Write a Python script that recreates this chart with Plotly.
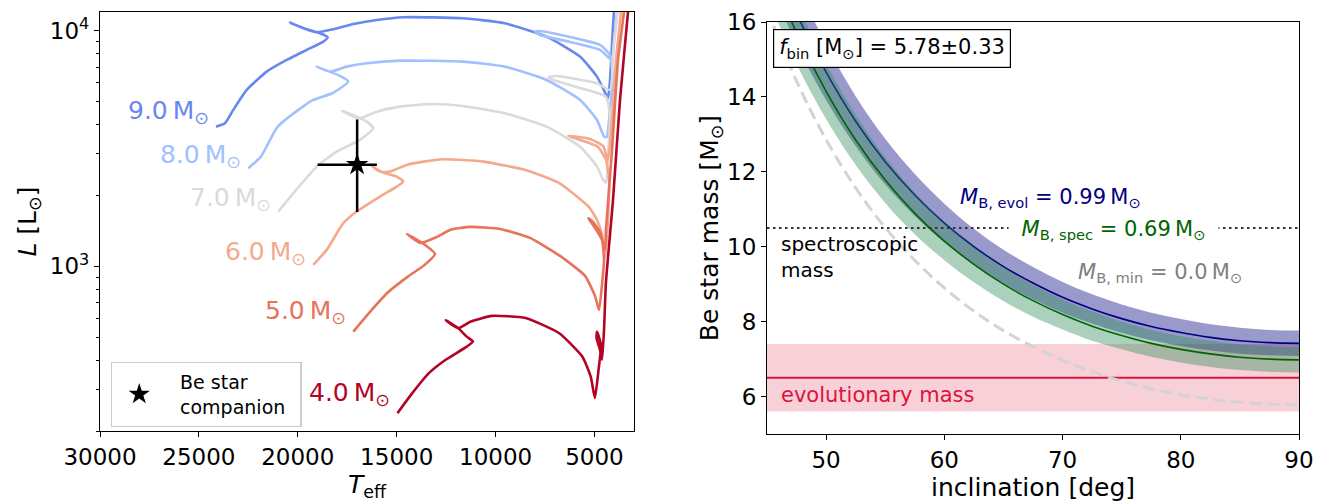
import math
import plotly.graph_objects as go

# ---------------- data: evolutionary tracks (Teff [K], L [Lsun]) ----------------
track_labels = ["9.0", "8.0", "7.0", "6.0", "5.0", "4.0"]
track_colors = ["#6788ee", "#a2c0fd", "#dadada", "#f5a98c", "#e6735a", "#b40426"]

teff_9 = [24135, 23680, 23260, 22583, 21572, 20560, 19549, 18710, 18488, 18877, 19549, 20394, 19721, 19044,
          18204, 17193, 16010, 14645, 11672, 9543, 7420, 5721, 4872, 4447, 4325, 4224, 4129, 4022, 3962]
lum_9 = [3915, 4046, 4610, 5604, 6699, 7511, 8284, 8981, 9376, 9749, 10137, 10812, 10237, 9845,
         10137, 10676, 11101, 11399, 11287, 10750, 9430, 7757, 6380, 5425, 5156, 5983, 8284, 11854, 13490]

teff_8 = [22502, 21865, 21016, 19741, 19216, 18255, 17446, 17866, 19044, 18371, 17527, 16516, 14832, 11672,
          9543, 7420, 5721, 4872, 4513, 4386, 4214, 4094, 4214, 4720, 6237, 7754, 8006, 7754, 6237, 4720,
          4113, 4012, 3860, 3810]
lum_8 = [2608, 2920, 3915, 4761, 5082, 5425, 6077, 6424, 7036, 6699, 7036, 7273, 7459, 7387,
         7036, 6178, 5082, 4179, 3551, 3530, 4610, 6486, 7886, 8697, 9404, 9970, 9922, 9589, 8954, 8284,
         7511, 9130, 11890, 13490]

teff_7 = [20985, 20227, 19044, 18033, 16854, 16182, 16516, 17021, 17780, 17360, 16854, 16010, 14832, 13148,
          11672, 9543, 7420, 5721, 4872, 4553, 4417, 4300, 4214, 4417, 5731, 7081, 7334, 6909, 4887, 4214,
          4048, 3845, 3785]
lum_7 = [1707, 2042, 2649, 3066, 3438, 3854, 4110, 4316, 4578, 4388, 4249, 4532, 4761, 4887,
         4793, 4463, 3915, 3219, 2649, 2326, 2266, 3118, 4388, 5232, 5713, 6178, 6344, 6424, 5983, 5604,
         8284, 11854, 13490]

teff_6 = [19216, 18538, 17699, 17021, 15843, 15000, 14665, 15000, 15676, 16263, 15843, 15338, 14493, 13654,
          12643, 10610, 8487, 6783, 5296, 4872, 4619, 4467, 4316, 4265, 4422, 4821, 5731, 6323, 5984, 5226,
          4568, 4316, 4113, 3911, 3658, 3608]
lum_6 = [1014, 1174, 1524, 1707, 1976, 2178, 2288, 2403, 2497, 2667, 2522, 2522, 2693, 2781,
         2847, 2781, 2564, 2253, 1792, 1573, 1359, 1085, 1573, 2326, 2828, 3211, 3438, 3574, 3557, 3471,
         3242, 2828, 4179, 7511, 12005, 13490]

teff_5 = [17193, 16556, 15494, 14433, 13583, 13062, 13568, 14478, 13821, 12961, 12304, 11293, 9776, 8259,
          6742, 5478, 4973, 4771, 4619, 4518, 4619, 4973, 5311, 5124, 4720, 4467, 4422, 4113, 3810, 3507, 3456]
lum_5 = [528, 612, 769, 904, 1014, 1129, 1233, 1373, 1257, 1334, 1427, 1470, 1441, 1320,
         1107, 911, 749, 653, 834, 1065, 1294, 1455, 1600, 1558, 1399, 1174, 1427, 3118, 7511, 12005, 13490]

teff_4 = [14963, 14220, 13371, 12522, 11460, 11141, 11460, 11885, 12522, 12203, 11885, 11247, 10186, 8487,
          6783, 5615, 5190, 4978, 4796, 4669, 4872, 4897, 4720, 4619, 4518, 4422, 4063, 3709, 3304, 3254]
lum_4 = [238, 289, 352, 401, 456, 479, 503, 546, 592, 564, 546, 583, 616, 603,
         520, 414, 340, 276, 363, 464, 528, 497, 442, 401, 537, 850, 1913, 5082, 12005, 13490]

track_teff = [teff_9, teff_8, teff_7, teff_6, teff_5, teff_4]
track_lum = [lum_9, lum_8, lum_7, lum_6, lum_5, lum_4]
label_yshift = [15, 12, 13, 12, 20, 19]

# Be star companion
star_teff = [17000]
star_teff_err_hot = [2000]
star_teff_err_cool = [1000]
star_lum = [2700]
star_lum_err_up = [1500]
star_lum_err_down = [1000]

# ---------------- data: Be star mass vs inclination ----------------
incl = [45, 47.5, 50, 52.5, 55, 57.5, 60, 62.5, 65, 67.5, 70, 72.5, 75, 77.5, 80, 82.5, 85, 87.5, 90]
m_min = [16.35, 14.42, 12.86, 11.57, 10.51, 9.64, 8.90, 8.28, 7.76, 7.33, 6.97, 6.66, 6.41, 6.21, 6.05,
         5.93, 5.85, 5.80, 5.78]
m_evol = [18.18, 16.23, 14.66, 13.35, 12.27, 11.38, 10.63, 10.00, 9.47, 9.03, 8.65, 8.34, 8.08, 7.87, 7.71,
          7.58, 7.49, 7.44, 7.42]
m_evol_hi = [19.12, 17.06, 15.40, 14.02, 12.88, 11.94, 11.15, 10.48, 9.92, 9.46, 9.06, 8.73, 8.46, 8.24, 8.07,
             7.93, 7.84, 7.78, 7.76]
m_evol_lo = [17.24, 15.40, 13.92, 12.68, 11.66, 10.82, 10.11, 9.52, 9.02, 8.60, 8.24, 7.95, 7.70, 7.50, 7.35,
             7.23, 7.14, 7.10, 7.08]
m_spec = [17.65, 15.71, 14.15, 12.85, 11.78, 10.89, 10.15, 9.53, 9.00, 8.56, 8.19, 7.88, 7.63, 7.42, 7.26,
          7.14, 7.05, 7.00, 6.98]
m_spec_hi = [18.59, 16.54, 14.89, 13.52, 12.39, 11.45, 10.66, 10.01, 9.45, 8.99, 8.59, 8.27, 8.00, 7.78, 7.61,
             7.49, 7.39, 7.34, 7.32]
m_spec_lo = [16.71, 14.88, 13.41, 12.18, 11.17, 10.33, 9.64, 9.05, 8.55, 8.13, 7.79, 7.49, 7.26, 7.06, 6.91,
             6.79, 6.71, 6.66, 6.64]
incl_range = [45, 90]
evol_mass = 6.5
evol_mass_err = 0.9
spec_mass = 10.5

FONT = "DejaVu Sans"
fig = go.Figure()

# ---- left panel: tracks ----
for lab, col, tt, ll in zip(track_labels, track_colors, track_teff, track_lum):
    fig.add_trace(go.Scatter(x=tt, y=ll, mode="lines", line=dict(color=col, width=2.6, shape="spline", smoothing=0.5),
                             showlegend=False, hoverinfo="skip", xaxis="x", yaxis="y"))

fig.add_trace(go.Scatter(
    x=star_teff, y=star_lum, mode="markers",
    name="\u2002\u2009Be star<br>\u2002\u2009companion\u2002",
    marker=dict(symbol="star", size=17, color="black"),
    error_x=dict(type="data", symmetric=False, array=star_teff_err_hot, arrayminus=star_teff_err_cool,
                 color="black", thickness=2.5, width=0),
    error_y=dict(type="data", symmetric=False, array=star_lum_err_up, arrayminus=star_lum_err_down,
                 color="black", thickness=2.5, width=0),
    xaxis="x", yaxis="y", showlegend=True))

annotations = []
for lab, col, tt, ll, ys in zip(track_labels, track_colors, track_teff, track_lum, label_yshift):
    annotations.append(dict(x=tt[0], y=math.log10(ll[0]), xref="x", yref="y",
                            text=f"{lab}\u2009M<sub>\u2299</sub>", showarrow=False,
                            xanchor="right", yanchor="middle", xshift=-5, yshift=ys,
                            font=dict(family=FONT, size=25, color=col)))

# ---- right panel ----
fig.add_trace(go.Scatter(x=incl_range, y=[evol_mass - evol_mass_err] * 2, mode="lines", line=dict(width=0),
                         showlegend=False, hoverinfo="skip", xaxis="x2", yaxis="y2"))
fig.add_trace(go.Scatter(x=incl_range, y=[evol_mass + evol_mass_err] * 2, mode="lines", line=dict(width=0),
                         fill="tonexty", fillcolor="rgba(220,20,60,0.2)",
                         showlegend=False, hoverinfo="skip", xaxis="x2", yaxis="y2"))
fig.add_trace(go.Scatter(x=incl_range, y=[evol_mass] * 2, mode="lines", line=dict(color="crimson", width=2),
                         showlegend=False, hoverinfo="skip", xaxis="x2", yaxis="y2"))

fig.add_trace(go.Scatter(x=incl, y=m_min, mode="lines",
                         line=dict(color="#d3d3d3", width=3, dash="12px,6px", shape="spline"),
                         showlegend=False, hoverinfo="skip", xaxis="x2", yaxis="y2"))

fig.add_trace(go.Scatter(x=incl, y=m_evol_lo, mode="lines", line=dict(width=0, shape="spline"),
                         showlegend=False, hoverinfo="skip", xaxis="x2", yaxis="y2"))
fig.add_trace(go.Scatter(x=incl, y=m_evol_hi, mode="lines", line=dict(width=0, shape="spline"),
                         fill="tonexty", fillcolor="rgba(0,0,128,0.4)",
                         showlegend=False, hoverinfo="skip", xaxis="x2", yaxis="y2"))
fig.add_trace(go.Scatter(x=incl, y=m_evol, mode="lines", line=dict(color="navy", width=1.6, shape="spline"),
                         showlegend=False, hoverinfo="skip", xaxis="x2", yaxis="y2"))

fig.add_trace(go.Scatter(x=incl, y=m_spec_lo, mode="lines", line=dict(width=0, shape="spline"),
                         showlegend=False, hoverinfo="skip", xaxis="x2", yaxis="y2"))
fig.add_trace(go.Scatter(x=incl, y=m_spec_hi, mode="lines", line=dict(width=0, shape="spline"),
                         fill="tonexty", fillcolor="rgba(46,139,87,0.4)",
                         showlegend=False, hoverinfo="skip", xaxis="x2", yaxis="y2"))
fig.add_trace(go.Scatter(x=incl, y=m_spec, mode="lines", line=dict(color="darkgreen", width=1.6, shape="spline"),
                         showlegend=False, hoverinfo="skip", xaxis="x2", yaxis="y2"))

fig.add_trace(go.Scatter(x=incl_range, y=[spec_mass] * 2, mode="lines",
                         line=dict(color="#333333", width=2, dash="2.5px,3.5px"),
                         showlegend=False, hoverinfo="skip", xaxis="x2", yaxis="y2"))

annotations += [
    dict(x=45.47, y=15.29, xref="x2", yref="y2", xanchor="left", yanchor="middle", showarrow=False,
         text="<i>f</i><sub>bin</sub> [M<sub>\u2299</sub>] = 5.78\u00b10.33",
         font=dict(family=FONT, size=21, color="black"),
         bordercolor="black", borderwidth=1.2, borderpad=5, bgcolor="white"),
    dict(x=68.94, y=11.30, xref="x2", yref="y2", xanchor="center", yanchor="middle", showarrow=False,
         text="<i>M</i><sub>B, evol</sub> = 0.99\u2009M<sub>\u2299</sub>",
         font=dict(family=FONT, size=21, color="navy")),
    dict(x=74.3, y=10.45, xref="x2", yref="y2", xanchor="center", yanchor="middle", showarrow=False,
         text="\u2002<i>M</i><sub>B, spec</sub> = 0.69\u2009M<sub>\u2299</sub>\u2002",
         font=dict(family=FONT, size=21, color="darkgreen"), bgcolor="white", borderpad=2),
    dict(x=78.24, y=9.30, xref="x2", yref="y2", xanchor="center", yanchor="middle", showarrow=False,
         text="<i>M</i><sub>B, min</sub> = 0.0\u2009M<sub>\u2299</sub>",
         font=dict(family=FONT, size=21, color="gray")),
    dict(x=46.0, y=9.72, xref="x2", yref="y2", xanchor="left", yanchor="middle", showarrow=False, align="left",
         text="spectroscopic<br>mass", font=dict(family=FONT, size=20, color="black")),
    dict(x=46.0, y=6.04, xref="x2", yref="y2", xanchor="left", yanchor="middle", showarrow=False,
         text="evolutionary mass", font=dict(family=FONT, size=21, color="crimson")),
]

axis_common = dict(showline=True, mirror=True, linecolor="black", linewidth=1.2, ticks="outside",
                   ticklen=5, tickwidth=1.2, tickcolor="black", showgrid=False, zeroline=False,
                   tickfont=dict(family=FONT, size=23, color="black"))

minor_vals = [200, 300, 400, 500, 600, 700, 800, 900, 2000, 3000, 4000, 5000, 6000, 7000, 8000, 9000]

# the page body adds an 8px offset, so the figure is 8px smaller and margins are shifted accordingly
fig.update_layout(
    width=1318, height=494,
    margin=dict(l=92, r=27, t=4, b=68, autoexpand=False),
    paper_bgcolor="white", plot_bgcolor="white",
    font=dict(family=FONT, size=23, color="black"),
    xaxis=dict(domain=[0, 0.4454], range=[30000, 3000], tickvals=[30000, 25000, 20000, 15000, 10000, 5000],
               ticktext=["30000", "25000", "20000", "15000", "10000", "5000"], anchor="y",
               title=dict(text="<i>T</i><sub>eff</sub>", font=dict(family=FONT, size=25), standoff=4),
               **axis_common),
    yaxis=dict(domain=[0.0071, 1], type="log", range=[math.log10(200), math.log10(12000)],
               tickvals=[1000, 10000], ticktext=["10<sup>3</sup>", "10<sup>4</sup>"], anchor="x",
               minor=dict(tickvals=minor_vals, ticks="outside", ticklen=3, tickwidth=1, tickcolor="black"),
               title=dict(text="<i>L</i> [L<sub>\u2299</sub>]", font=dict(family=FONT, size=25), standoff=6),
               **axis_common),
    xaxis2=dict(domain=[0.5563, 1], range=[45, 90], tickvals=[50, 60, 70, 80, 90], anchor="y2",
                title=dict(text="inclination [deg]", font=dict(family=FONT, size=25), standoff=4),
                **axis_common),
    yaxis2=dict(domain=[0, 0.9763], range=[5, 16], tickvals=[6, 8, 10, 12, 14, 16], anchor="x2",
                title=dict(text="Be star mass [M<sub>\u2299</sub>]", font=dict(family=FONT, size=25), standoff=0),
                **axis_common),
    showlegend=True,
    legend=dict(x=0.0088, y=0.1713, xanchor="left", yanchor="top", bordercolor="#cccccc", borderwidth=1.2,
                bgcolor="white", font=dict(family=FONT, size=19, color="black"), itemsizing="trace",
                itemwidth=45),
    annotations=annotations,
)

fig.write_html("out.html")
